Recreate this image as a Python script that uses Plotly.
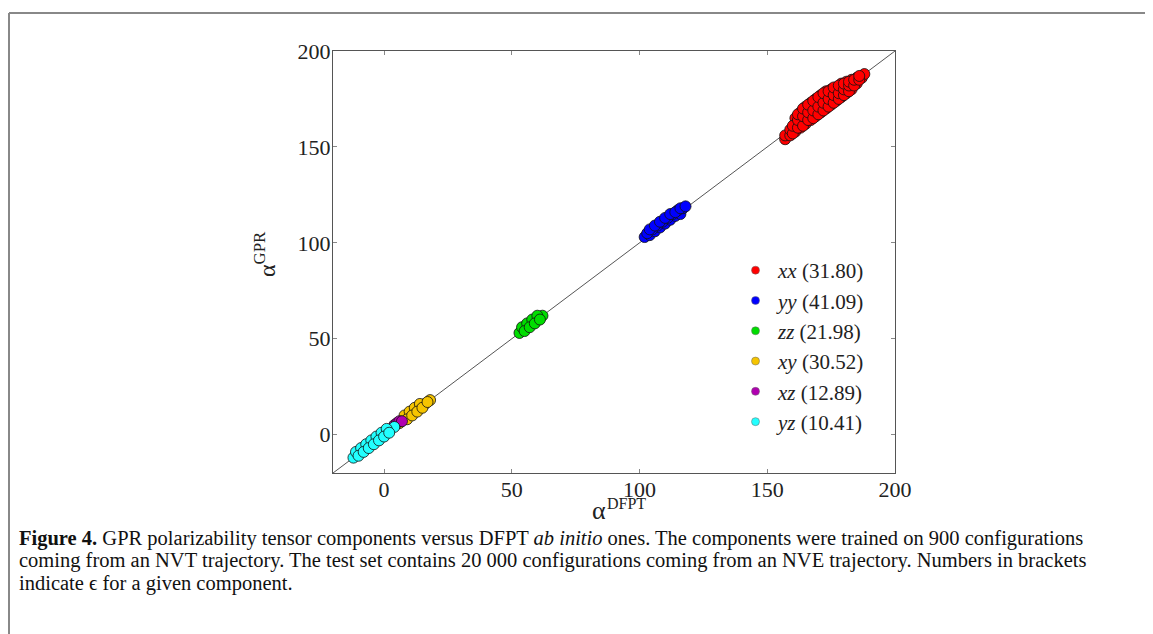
import plotly.graph_objects as go

# ---------------- data ----------------
components = ["xx", "yy", "zz", "xy", "xz", "yz"]
errors = ["31.80", "41.09", "21.98", "30.52", "12.89", "10.41"]
colors = ["#ff0000", "#0000ff", "#00dd00", "#f5c400", "#b000b0", "#22ffff"]

xx_dfpt = [157, 157, 159, 159, 161, 161, 161, 163, 163, 163, 165, 165, 165,
           167, 167, 167, 169, 169, 169, 171, 171, 171, 173, 173, 173,
           175, 175, 175, 177, 177, 177, 179, 179, 179, 181, 181, 181,
           183, 183, 183, 185, 185, 187, 188,
           160, 160, 162, 162, 162, 164, 164, 164, 166, 166, 166, 168, 168, 168,
           170, 170, 170, 172, 172, 172, 174, 174, 174, 176, 176, 176,
           178, 178, 178, 180, 180, 180, 182, 182, 182, 184, 184, 186, 186]
xx_gpr = [154, 156, 156, 159, 158, 162, 165, 160, 164, 168, 162, 166, 171,
          164, 168, 173, 166, 170, 175, 168, 172, 177, 170, 174, 179,
          172, 176, 180, 174, 177, 181, 176, 179, 183, 178, 181, 184,
          180, 183, 185, 183, 186, 186, 188,
          157, 161, 160, 164, 167, 161, 166, 170, 164, 168, 172, 165, 169, 174,
          167, 171, 176, 169, 173, 178, 171, 175, 179, 173, 177, 181,
          175, 178, 182, 177, 180, 183, 179, 182, 184, 182, 185, 185, 187]

yy_dfpt = [102, 104, 106, 108, 110, 112, 114, 116, 103, 105, 107, 109, 111, 113, 115, 117,
           104, 106, 108, 110, 112, 114, 116, 118]
yy_gpr = [103, 104, 106, 108, 110, 112, 114, 115, 105, 107, 109, 111, 113, 115, 117, 118,
          107, 109, 111, 113, 115, 116, 118, 119]

zz_dfpt = [53, 55, 57, 59, 61, 62, 54, 56, 58, 60, 55, 57, 59, 61]
zz_gpr = [53, 55, 57, 59, 61, 62, 56, 58, 60, 62, 54, 56, 58, 60]

xy_dfpt = [6, 8, 10, 12, 14, 16, 18, 8, 10, 12, 14, 9, 11, 13, 15, 17]
xy_gpr = [6, 8, 10, 12, 14, 16, 18, 10, 12, 14, 16, 8, 10, 12, 14, 17]

xz_dfpt = [4, 5, 6, 7]
xz_gpr = [5, 6, 7, 7]

yz_dfpt = [-12, -10, -8, -6, -4, -2, 0, 2, 4, -11, -9, -7, -5, -3, -1, 1,
           -10, -8, -6, -4, -2, 0, 2]
yz_gpr = [-12, -10, -8, -6, -4, -2, 0, 2, 4, -9, -7, -5, -3, -1, 1, 3,
          -11, -9, -7, -5, -3, -1, 1]

series_x = [xx_dfpt, yy_dfpt, zz_dfpt, xy_dfpt, xz_dfpt, yz_dfpt]
series_y = [xx_gpr, yy_gpr, zz_gpr, xy_gpr, xz_gpr, yz_gpr]

diag = [-20, 200]
tick_vals = [0, 50, 100, 150, 200]
tick_text = ["0", "50", "100", "150", "200"]

caption_lines = [
    "<b>Figure 4.</b> GPR polarizability tensor components versus DFPT <i>ab initio</i> ones. The components were trained on 900 configurations",
    "coming from an NVT trajectory. The test set contains 20 000 configurations coming from an NVE trajectory. Numbers in brackets",
    "indicate \u03f5 for a given component.",
]

# ---------------- figure ----------------
OFF = 8                      # page body margin
W, H = 1153 - OFF, 634 - OFF
PL, PR, PT, PB = 333, 895, 51, 473   # plot box in reference pixels
L, T = PL - OFF, PT - OFF
R, B = W - (PR - OFF), H - (PB - OFF)
pw, ph = PR - PL, PB - PT


def px2paper_x(px):
    return (px - PL) / pw


def px2paper_y(py):
    return (PB - py) / ph


fig = go.Figure()

fig.add_trace(go.Scatter(x=diag, y=diag, mode="lines",
                         line=dict(color="#555555", width=1),
                         showlegend=False, hoverinfo="skip"))

for comp, err, col, xs, ys in zip(components, errors, colors, series_x, series_y):
    fig.add_trace(go.Scatter(
        x=xs, y=ys, mode="markers",
        marker=dict(size=11, color=col, line=dict(color="#111111", width=0.8)),
        showlegend=False, legendgroup=comp))

for comp, err, col in zip(components, errors, colors):
    fig.add_trace(go.Scatter(
        x=[None], y=[None], mode="markers",
        marker=dict(size=8, color=col, line=dict(color="#666666", width=0.5)),
        name=f"<i>{comp}</i> ({err})", legendgroup=comp, showlegend=True))

axis_common = dict(
    range=[-20, 200], tickvals=tick_vals, ticktext=tick_text,
    showgrid=False, zeroline=False, showline=True, linecolor="#555555",
    linewidth=1, mirror="ticks", ticks="inside", ticklen=4,
    tickcolor="#888888", tickfont=dict(family="Liberation Serif", size=22, color="#222222"),
    ticklabelstandoff=-3,
)

fig.update_layout(
    width=W, height=H,
    margin=dict(l=L, r=R, t=T, b=B),
    paper_bgcolor="white", plot_bgcolor="white",
    xaxis=dict(**axis_common),
    yaxis=dict(**axis_common),
    legend=dict(x=px2paper_x(733), y=px2paper_y(250), xanchor="left", yanchor="top",
                font=dict(family="Liberation Serif", size=21, color="#222222"),
                bgcolor="rgba(0,0,0,0)", tracegroupgap=0, itemwidth=35),
    font=dict(family="Liberation Serif"),
)

annotations = [
    # x-axis title: alpha with DFPT superscript
    dict(text="\u03b1", x=px2paper_x(599), y=px2paper_y(511), yanchor="middle",
         xref="paper", yref="paper", showarrow=False, borderpad=0,
         font=dict(family="Liberation Serif", size=26, color="#222222")),
    dict(text="DFPT", x=px2paper_x(606), y=px2paper_y(503), xanchor="left", yanchor="middle",
         xref="paper", yref="paper", showarrow=False, borderpad=0,
         font=dict(family="Liberation Serif", size=16, color="#222222")),
    dict(text="\u03b1<sup>GPR</sup>", x=px2paper_x(248), y=px2paper_y(254), yanchor="middle",
         xref="paper", yref="paper", showarrow=False, textangle=-90,
         font=dict(family="Liberation Serif", size=24, color="#222222")),
]
cap_y = [538, 560, 583]
for line, cy in zip(caption_lines, cap_y):
    annotations.append(dict(text=line, x=px2paper_x(17), y=px2paper_y(cy),
                            xref="paper", yref="paper", xanchor="left", yanchor="middle",
                            showarrow=False, align="left",
                            font=dict(family="Liberation Serif", size=20.5, color="#111111")))
fig.update_layout(annotations=annotations)

# page frame: top and left rules
fig.add_shape(type="line", xref="paper", yref="paper",
              x0=px2paper_x(9), x1=px2paper_x(1160), y0=px2paper_y(13), y1=px2paper_y(13),
              line=dict(color="#888888", width=2))
fig.add_shape(type="line", xref="paper", yref="paper",
              x0=px2paper_x(9), x1=px2paper_x(9), y0=px2paper_y(13), y1=px2paper_y(640),
              line=dict(color="#888888", width=2))

fig.write_html("out.html")
